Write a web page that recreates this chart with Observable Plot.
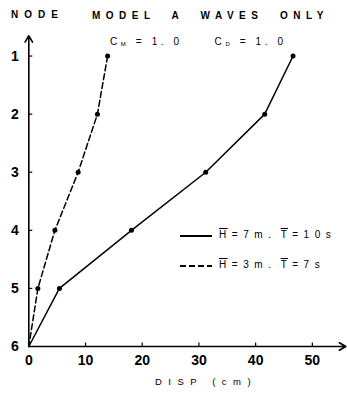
<!DOCTYPE html>
<html>
<head>
<meta charset="utf-8">
<script src="https://cdn.jsdelivr.net/npm/d3@7"></script>
<script src="https://cdn.jsdelivr.net/npm/@observablehq/plot@0.6"></script>
<style>
  html, body { margin: 0; padding: 0; background: #fff; }
  #wrap { position: relative; width: 347px; height: 393px; overflow: hidden; font-family: "Liberation Sans", Arial, sans-serif; color: #000; }
  #wrap svg { position: absolute; left: 0; top: 0; }
  .t { position: absolute; white-space: pre; font-weight: bold; font-size: 10px; line-height: 1; }
  .ol { text-decoration: overline; }
  .leg { position: absolute; width: 32px; height: 1.5px; background: #000; }
  .leg.d { background: repeating-linear-gradient(to right, #000 0 6px, transparent 6px 9px); }
  sub { font-size: 6px; vertical-align: -1px; }
</style>
</head>
<body>
<div id="wrap"></div>
<script>
// ---- data ----
const nodes = [1, 2, 3, 4, 5, 6];
const dispH7 = [46.6, 41.6, 31.2, 18.1, 5.4, 0];   // H=7m, T=10s (solid)
const dispH3 = [13.9, 12.1, 8.7, 4.6, 1.6, 0];     // H=3m, T=7s (dashed)
const seriesNames = ["H7", "H3"];
const xTicks = [0, 10, 20, 30, 40, 50];
const yTicks = [1, 2, 3, 4, 5, 6];
const title = "MODEL  A  WAVES  ONLY";
const yTitle = "NODE";
const xTitle = "DISP (cm)";

const rows = [];
nodes.forEach((n, i) => {
  rows.push({series: seriesNames[0], node: n, disp: dispH7[i]});
  rows.push({series: seriesNames[1], node: n, disp: dispH3[i]});
});
const solid = rows.filter(d => d.series === "H7");
const dashed = rows.filter(d => d.series === "H3");

const xMax = 56.2, yMin = 0.6, yBase = 6;

const chart = Plot.plot({
  width: 347,
  height: 393,
  marginLeft: 28.3,
  marginRight: 0,
  marginTop: 32.3,
  marginBottom: 47,
  style: {fontFamily: "Liberation Sans, Arial, sans-serif", background: "transparent"},
  x: {domain: [0, xMax]},
  y: {domain: [yMin, yBase], reverse: true},
  marks: [
    Plot.axisX(xTicks, {tickSize: 0, tickPadding: 9, fontSize: 14, fontWeight: "bold", label: null, tickFormat: d => String(d)}),
    Plot.axisY(yTicks, {tickSize: 0, tickPadding: 10, fontSize: 14, fontWeight: "bold", label: null, tickFormat: d => String(d)}),
    // small inward ticks
    Plot.ruleX(xTicks.filter(v => v > 0), {x: d => d, y1: () => yBase, y2: () => yBase - 0.06, strokeWidth: 1.2}),
    Plot.ruleY(yTicks.filter(v => v < yBase), {y: d => d, x1: () => 0, x2: () => 0.7, strokeWidth: 1.2}),
    // axes with arrows
    Plot.arrow([{x1: 0, y1: yBase, x2: xMax - 0.3, y2: yBase}], {x1: "x1", y1: "y1", x2: "x2", y2: "y2", strokeWidth: 1.6, headLength: 7}),
    Plot.arrow([{x1: 0, y1: yBase, x2: 0, y2: yMin + 0.05}], {x1: "x1", y1: "y1", x2: "x2", y2: "y2", strokeWidth: 1.6, headLength: 7}),
    // series
    Plot.line(solid, {x: "disp", y: "node", stroke: "#000", strokeWidth: 1.5}),
    Plot.line(dashed, {x: "disp", y: "node", stroke: "#000", strokeWidth: 1.5, strokeDasharray: "6,3"}),
    Plot.dot(rows.filter(d => d.node < 6), {x: "disp", y: "node", r: 2.5, fill: "#000", stroke: "none"})
  ]
});
const wrap = document.getElementById("wrap");
wrap.appendChild(chart);

function addText(html, left, top, extra) {
  const el = document.createElement("div");
  el.className = "t";
  el.innerHTML = html;
  el.style.left = left + "px";
  el.style.top = top + "px";
  if (extra) Object.assign(el.style, extra);
  wrap.appendChild(el);
  return el;
}
addText(yTitle, 11, 10, {letterSpacing: "6px"});
addText(title, 92, 11, {letterSpacing: "5.5px"});
addText("C<sub>M</sub> = 1. 0     C<sub>D</sub> = 1. 0", 110, 37, {letterSpacing: "3.6px", fontWeight: "normal"});
addText(xTitle, 155, 377, {letterSpacing: "6.5px", fontWeight: "normal", fontSize: "9.5px"});

// legend
const l1 = document.createElement("div"); l1.className = "leg"; l1.style.left = "180px"; l1.style.top = "235px"; wrap.appendChild(l1);
const l2 = document.createElement("div"); l2.className = "leg d"; l2.style.left = "180px"; l2.style.top = "265px"; wrap.appendChild(l2);
addText('<span class="ol">H</span> = 7 m .  <span class="ol">T</span> = 1 0 s', 219, 230, {letterSpacing: "1.4px", fontWeight: "normal", fontSize: "10px"});
addText('<span class="ol">H</span> = 3 m .  <span class="ol">T</span> = 7 s', 219, 260, {letterSpacing: "1.4px", fontWeight: "normal", fontSize: "10px"});
</script>
</body>
</html>
